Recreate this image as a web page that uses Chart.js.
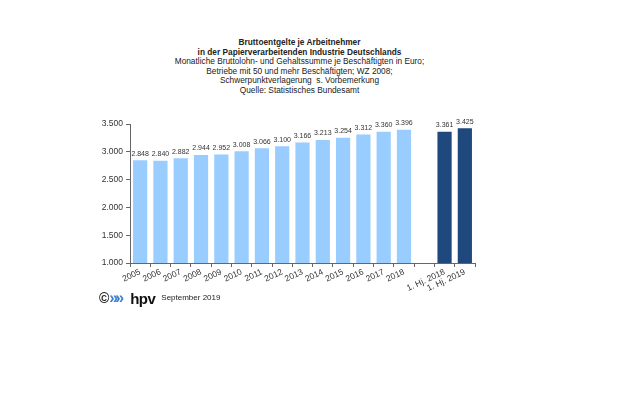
<!DOCTYPE html>
<html>
<head>
<meta charset="utf-8">
<script src="https://cdn.jsdelivr.net/npm/chart.js@4"></script>
<style>
  body { margin: 0; background: #fff; font-family: "Liberation Sans", Arial, sans-serif; }
  #wrap { position: relative; width: 629px; height: 393px; }
  #title { position: absolute; left: 0; top: 38px; width: 599px; text-align: center; font-size: 8.3px; line-height: 9.6px; color: #222; }
  #foot { position: absolute; left: 99px; top: 289px; font-size: 8px; color: #222; white-space: nowrap; }
  #foot .c { font-size: 14px; font-weight: bold; vertical-align: middle; }
  #foot .arr { color: #3b7fd0; font-size: 16px; font-weight: bold; letter-spacing: -3px; vertical-align: middle; }
  #foot .hpv { font-size: 15px; font-weight: bold; color: #111; margin-left: 9px; margin-right: 6px; vertical-align: middle; letter-spacing: -0.5px; }
  canvas { position: absolute; left: 0; top: 0; }
</style>
</head>
<body>
<div id="wrap">
  <div id="title">
    <b>Bruttoentgelte je Arbeitnehmer</b><br>
    <b>in der Papierverarbeitenden Industrie Deutschlands</b><br>
    Monatliche Bruttolohn- und Gehaltssumme je Beschäftigten in Euro;<br>
    Betriebe mit 50 und mehr Beschäftigten; WZ 2008;<br>
    Schwerpunktverlagerung &nbsp;s. Vorbemerkung<br>
    Quelle: Statistisches Bundesamt
  </div>
  <canvas id="chart" width="629" height="393"></canvas>
  <div id="foot"><span class="c">©</span><span class="arr">»»</span><span class="hpv">hpv</span>September 2019</div>
</div>
<script>
const labels = ["2005", "2006", "2007", "2008", "2009", "2010", "2011", "2012", "2013", "2014", "2015", "2016", "2017", "2018", "", "1. Hj. 2018", "1. Hj. 2019"];
const values = [2848, 2840, 2882, 2944, 2952, 3008, 3066, 3100, 3166, 3213, 3254, 3312, 3360, 3396, null, 3361, 3425];
const colors = ["#99ccff", "#99ccff", "#99ccff", "#99ccff", "#99ccff", "#99ccff", "#99ccff", "#99ccff", "#99ccff", "#99ccff", "#99ccff", "#99ccff", "#99ccff", "#99ccff", "#99ccff", "#1f497d", "#1f497d"];

function fmt(v) {
  return v.toLocaleString("de-DE");
}

const valueLabels = {
  id: "valueLabels",
  afterDatasetsDraw(chart) {
    const ctx = chart.ctx;
    const meta = chart.getDatasetMeta(0);
    ctx.save();
    ctx.font = "7px 'Liberation Sans', Arial, sans-serif";
    ctx.fillStyle = "#333";
    ctx.textAlign = "center";
    ctx.textBaseline = "bottom";
    meta.data.forEach((bar, i) => {
      if (values[i] == null) return;
      ctx.fillText(fmt(values[i]), bar.x, bar.y - 3);
    });
    ctx.restore();
  }
};

new Chart(document.getElementById("chart").getContext("2d"), {
  type: "bar",
  data: {
    labels: labels,
    datasets: [{
      data: values,
      backgroundColor: colors,
      borderWidth: 0,
      barPercentage: 0.7,
      categoryPercentage: 1
    }]
  },
  options: {
    responsive: false,
    animation: false,
    layout: { padding: { left: 90, top: 124, right: 154, bottom: 90 } },
    plugins: { legend: { display: false }, tooltip: { enabled: false } },
    scales: {
      x: {
        afterFit: (s) => { s.height = 40; },
        grid: { offset: true, drawOnChartArea: false, tickLength: 4, color: "#666" },
        border: { color: "#666" },
        ticks: { minRotation: 25, maxRotation: 25, color: "#333", font: { size: 8.5, family: "'Liberation Sans', Arial, sans-serif" }, padding: 0, autoSkip: false }
      },
      y: {
        min: 1000,
        max: 3500,
        afterFit: (s) => { s.width = 40; },
        grid: { drawOnChartArea: false, tickLength: 4, color: "#666" },
        border: { color: "#666" },
        ticks: { stepSize: 500, color: "#333", font: { size: 8.5, family: "'Liberation Sans', Arial, sans-serif" }, callback: (v) => fmt(v) }
      }
    }
  },
  plugins: [valueLabels]
});
</script>
</body>
</html>
